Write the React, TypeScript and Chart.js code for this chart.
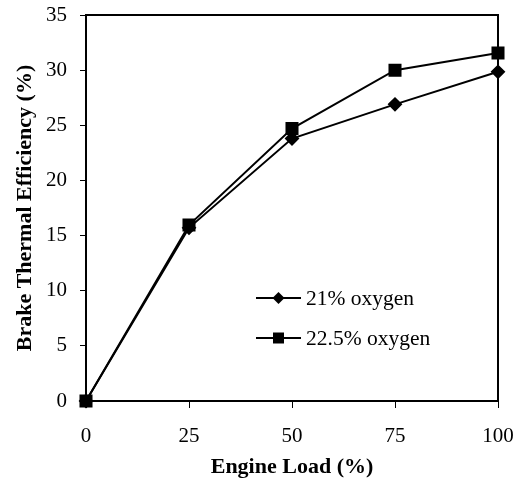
import React, { useEffect, useRef } from "react";
import { Chart, registerables } from "chart.js";

Chart.register(...registerables);

const loads = [0, 25, 50, 75, 100];
const oxygen21 = [0, 15.7, 23.8, 26.9, 29.85];
const oxygen225 = [0, 15.95, 24.7, 30.0, 31.55];
const seriesLabels = ["21% oxygen", "22.5% oxygen"];
const xTitle = "Engine Load (%)";
const yTitle = "Brake Thermal Efficiency (%)";

const FONT = "'Liberation Serif', 'Times New Roman', serif";

const frameAndLegend = {
  id: "frameAndLegend",
  beforeDatasetsDraw(chart: any) {
    const { ctx, chartArea } = chart;
    ctx.save();
    ctx.strokeStyle = "#000";
    ctx.lineWidth = 2;
    ctx.strokeRect(chartArea.left, chartArea.top, chartArea.right - chartArea.left, chartArea.bottom - chartArea.top);
    ctx.restore();
  },
  afterDraw(chart: any) {
    const { ctx } = chart;
    ctx.save();
    const items = chart.data.datasets;
    const x0 = 256, x1 = 301, tx = 306;
    const ys = [298, 338];
    items.forEach((ds: any, i: number) => {
      const y = ys[i];
      ctx.strokeStyle = "#000";
      ctx.lineWidth = 2;
      ctx.beginPath();
      ctx.moveTo(x0, y);
      ctx.lineTo(x1, y);
      ctx.stroke();
      ctx.fillStyle = "#000";
      ctx.beginPath();
      const cx = (x0 + x1) / 2;
      if (ds.pointStyle === "rect") {
        ctx.rect(cx - 5.5, y - 5.5, 11, 11);
      } else {
        ctx.moveTo(cx, y - 6);
        ctx.lineTo(cx + 6, y);
        ctx.lineTo(cx, y + 6);
        ctx.lineTo(cx - 6, y);
        ctx.closePath();
      }
      ctx.fill();
      ctx.font = `21.5px ${FONT}`;
      ctx.textBaseline = "middle";
      ctx.textAlign = "left";
      ctx.fillText(ds.label, tx, y + 1);
    });
    ctx.restore();
  },
};

export default function App() {
  const ref = useRef<HTMLCanvasElement>(null);
  useEffect(() => {
    if (!ref.current) return;
    const chart = new Chart(ref.current, {
      type: "line",
      data: {
        datasets: [
          {
            label: seriesLabels[0],
            data: loads.map((x, i) => ({ x, y: oxygen21[i] })),
            borderColor: "#000",
            backgroundColor: "#000",
            borderWidth: 2,
            pointStyle: "rectRot",
            pointRadius: 6,
            pointHoverRadius: 6,
            tension: 0,
            clip: false,
          },
          {
            label: seriesLabels[1],
            data: loads.map((x, i) => ({ x, y: oxygen225[i] })),
            borderColor: "#000",
            backgroundColor: "#000",
            borderWidth: 2,
            pointStyle: "rect",
            pointRadius: 7.8,
            pointHoverRadius: 7.8,
            tension: 0,
            clip: false,
          },
        ],
      },
      options: {
        animation: false,
        responsive: false,
        maintainAspectRatio: false,
        layout: { padding: { left: 0, right: 20, top: 15, bottom: 0 } },
        plugins: { legend: { display: false }, tooltip: { enabled: false } },
        scales: {
          x: {
            type: "linear",
            min: 0,
            max: 100,
            afterFit(scale: any) { scale.height = 79; scale.paddingLeft = 0; scale.paddingRight = 0; },
            afterBuildTicks(scale: any) { scale.ticks = loads.map((v) => ({ value: v })); },
            grid: { display: true, drawOnChartArea: false, tickLength: 7, color: "#000", lineWidth: 1 },
            border: { display: false },
            ticks: { color: "#000", font: { family: FONT, size: 21 }, padding: 16, maxRotation: 0, autoSkip: false },
            title: { display: true, text: xTitle, color: "#000", font: { family: FONT, size: 22, weight: "bold" }, padding: { top: 4, bottom: -1 } },
          },
          y: {
            type: "linear",
            min: 0,
            max: 35,
            afterFit(scale: any) { scale.width = 86; scale.paddingTop = 0; scale.paddingBottom = 0; },
            grid: { display: true, drawOnChartArea: false, tickLength: 6, color: "#000", lineWidth: 1 },
            border: { display: false },
            ticks: { stepSize: 5, color: "#000", font: { family: FONT, size: 21 }, padding: 13 },
            title: { display: true, text: yTitle, color: "#000", font: { family: FONT, size: 22, weight: "bold" }, padding: { top: 12, bottom: 0 } },
          },
        },
      },
      plugins: [frameAndLegend],
    } as any);
    return () => chart.destroy();
  }, []);
  return (
    <div style={{ position: "fixed", left: 0, top: 0, width: 518, height: 480, background: "#fff" }}>
      <canvas ref={ref} width={518} height={480} style={{ width: 518, height: 480 }} />
    </div>
  );
}
